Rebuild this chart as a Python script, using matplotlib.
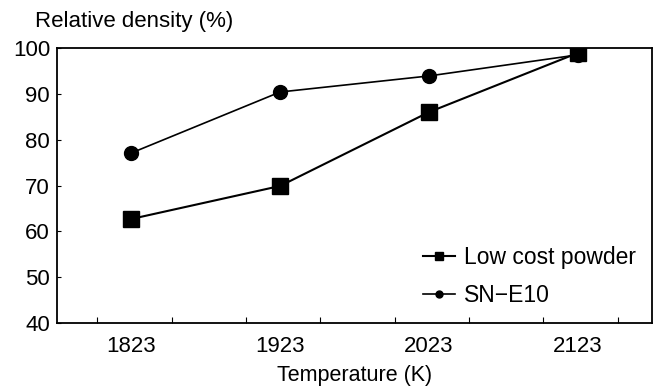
import matplotlib
matplotlib.use("Agg")
import matplotlib.pyplot as plt
from matplotlib.ticker import MultipleLocator

plt.rcParams['font.family'] = ['Liberation Sans', 'DejaVu Sans']

temperatures = [1823, 1923, 2023, 2123]
low_cost = [62.7, 69.9, 86.0, 98.9]
sn_e10 = [77.1, 90.4, 93.9, 98.5]
yticks = [40, 50, 60, 70, 80, 90, 100]

fig = plt.figure(figsize=(6.57, 3.92), dpi=100)
ax = fig.add_axes([57/657, 1 - 323/392, (652-57)/657, (323-48)/392])

ax.plot(temperatures, low_cost, color='black', lw=1.5, marker='s', ms=11.5,
        label='Low cost powder')
ax.plot(temperatures, sn_e10, color='black', lw=1.2, marker='o', ms=10,
        label='SN\u2212E10')

ax.set_xlim(1773, 2173)
ax.set_ylim(40, 100)
ax.set_xticks(temperatures)
ax.set_xticklabels([str(t) for t in temperatures])
ax.set_yticks(yticks)
ax.xaxis.set_minor_locator(MultipleLocator(50))
ax.tick_params(axis='both', which='major', direction='in', length=3,
               labelsize=16, width=0.8, pad=5)
ax.tick_params(axis='x', which='major', length=0, pad=9)
ax.tick_params(axis='x', which='minor', direction='in', length=4, width=0.8)
for s in ax.spines.values():
    s.set_linewidth(1.3)

ax.set_xlabel('Temperature (K)', fontsize=15.5, labelpad=6)
fig.text(35/657, 1 - 22/392, 'Relative density (%)', fontsize=16,
         ha='left', va='center')

ax.legend(loc='lower right', frameon=False, fontsize=16.5, handlelength=1.4,
          handletextpad=0.4, markerscale=0.5, bbox_to_anchor=(1.0, 0.0),
          labelspacing=0.67, borderaxespad=0.3)

fig.savefig('out.png', dpi=100)
